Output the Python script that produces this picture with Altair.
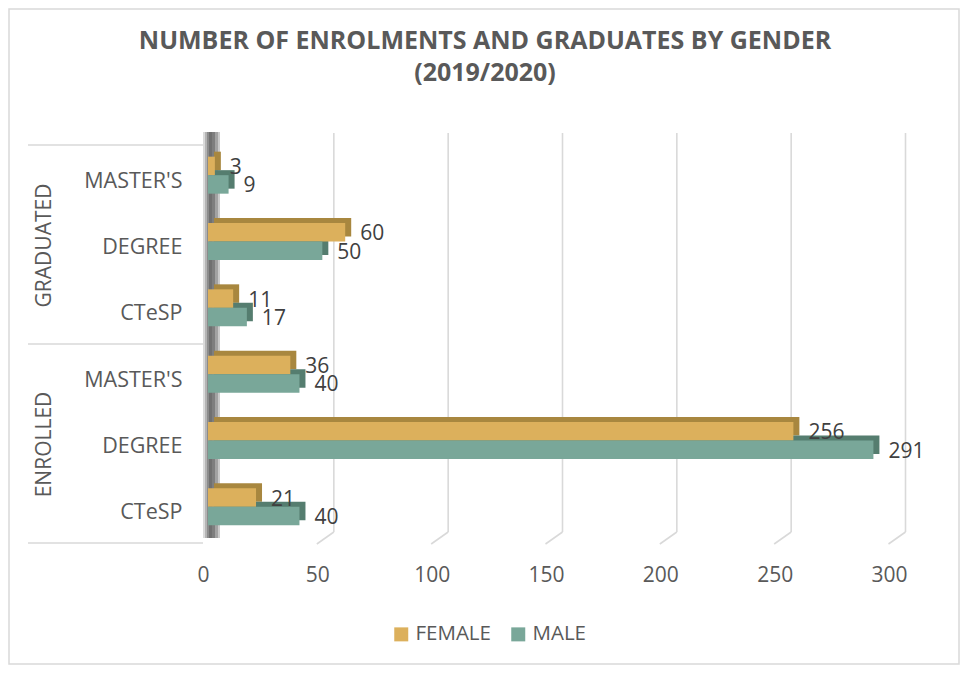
import altair as alt
import pandas as pd

# ---- data ----
groups = ["GRADUATED", "GRADUATED", "GRADUATED", "ENROLLED", "ENROLLED", "ENROLLED"]
levels = ["MASTER'S", "DEGREE", "CTeSP", "MASTER'S", "DEGREE", "CTeSP"]
female = [3, 60, 11, 36, 256, 21]
male = [9, 50, 17, 40, 291, 40]
genders = ["FEMALE", "MALE"]
tick_values = [0, 50, 100, 150, 200, 250, 300]
grid_values = [50, 100, 150, 200, 250, 300]
title_lines = ["NUMBER OF ENROLMENTS AND GRADUATES BY GENDER", "(2019/2020)"]

front_colors = ["#DCB05C", "#79A799"]
side_colors = ["#A8873F", "#557D6F"]

FONT = "Open Sans"
GREY = "#595959"

keys = [g + "|" + l for g, l in zip(groups, levels)]
rows = []
for k, g, l, f, m in zip(keys, groups, levels, female, male):
    rows.append({"key": k, "group": g, "level": l, "gender": "FEMALE", "v": f})
    rows.append({"key": k, "group": g, "level": l, "gender": "MALE", "v": m})
df = pd.DataFrame(rows)

W, H = 686, 398
BAR_H = 18.5

xscale = alt.Scale(domain=[0, 300], nice=False, zero=True)
yscale = alt.Scale(domain=keys, paddingInner=0.442, paddingOuter=0.221)

x_axis = alt.Axis(
    values=tick_values, grid=False, domain=False, ticks=False,
    labelFontSize=21, labelFont=FONT, labelColor=GREY,
    labelPadding=24, labelOffset=-5, title=None, labelFlush=False,
)
y_axis = alt.Axis(
    domain=False, ticks=False, title=None,
    labelFontSize=21.5, labelFont=FONT, labelColor=GREY,
    labelPadding=26, labelOffset=6.5,
    labelExpr="split(datum.label, '|')[1]",
)

def X():
    return alt.X("v:Q", scale=xscale, axis=x_axis)

def Y():
    return alt.Y("key:N", scale=yscale, sort=keys, axis=y_axis)

base = alt.Chart(df)
one = pd.DataFrame({"a": [0]})

# outer border
border = alt.Chart(one).mark_rect(
    fill="white", fillOpacity=0, stroke="#D9D9D9", strokeWidth=1.5
).encode(
    x=alt.value(-199), x2=alt.value(751), y=alt.value(-133), y2=alt.value(522)
)

# back-wall gridlines (3D look)
gdf = pd.DataFrame({"v": grid_values})
grid_v = alt.Chart(gdf).mark_rule(color="#D9D9D9", strokeWidth=1.6, xOffset=11.5).encode(
    x=X(), y=alt.value(-9), y2=alt.value(390)
)
grid_d = alt.Chart(gdf).mark_rule(color="#D9D9D9", strokeWidth=1.6, xOffset=11.5, x2Offset=-5.5).encode(
    x=X(), x2=alt.X2("v"), y=alt.value(390), y2=alt.value(402)
)

# category separators on the left
sep_layers = [
    alt.Chart(one).mark_rule(color="#D9D9D9", strokeWidth=1.6).encode(
        x=alt.value(-180), x2=alt.value(-5), y=alt.value(yy), y2=alt.value(yy)
    )
    for yy in (3, 202, 401)
]

# axis wall strip (shaded)
wall_layers = [
    alt.Chart(one).mark_rect(color=c).encode(
        x=alt.value(a), x2=alt.value(b), y=alt.value(-10), y2=alt.value(396)
    )
    for a, b, c in [(-5, -3, "#DADADA"), (-3, -1, "#B4B4B4"), (-1, 1, "#8C8C8C"),
                    (1, 4, "#707070"), (4, 7, "#7E7E7E"), (7, 10, "#A2A2A2"), (10, 12, "#CACACA")]
]

# bar side/top faces: a darker copy shifted right and up
back_layers = []
for gname, col, off in zip(genders, side_colors, (-BAR_H / 2, BAR_H / 2)):
    back_layers.append(
        base.transform_filter(alt.datum.gender == gname).mark_bar(
            color=col, height=BAR_H, xOffset=6, x2Offset=6, yOffset=off - 5
        ).encode(x=X(), y=Y())
    )

front = base.mark_bar().encode(
    x=X(),
    y=Y(),
    yOffset=alt.YOffset("gender:N", sort=genders),
    color=alt.Color(
        "gender:N",
        scale=alt.Scale(domain=genders, range=front_colors),
        legend=alt.Legend(
            title=None, orient="none", direction="horizontal",
            legendX=183, legendY=482,
            symbolType="square", symbolSize=196, symbolStrokeWidth=0,
            labelFontSize=20.5, labelFont=FONT, labelColor=GREY,
            labelOffset=4, columnPadding=17,
        ),
    ),
)

labels = base.mark_text(
    align="left", baseline="middle", dx=15, dy=2,
    fontSize=21, font=FONT, color="#404040",
).encode(
    x=X(),
    y=Y(),
    yOffset=alt.YOffset("gender:N", sort=genders),
    text=alt.Text("v:Q"),
)

# group labels
gl = pd.DataFrame({"key": ["GRADUATED|DEGREE", "ENROLLED|DEGREE"], "name": ["GRADUATED", "ENROLLED"]})
group_labels = alt.Chart(gl).mark_text(
    angle=270, align="center", baseline="middle", fontSize=21, font=FONT, color=GREY, yOffset=4
).encode(
    x=alt.value(-163),
    y=Y(),
    text="name:N",
)

# title
title_layers = [
    alt.Chart(pd.DataFrame({"t": [t]})).mark_text(
        align="center", baseline="alphabetic", fontSize=25, font=FONT, fontWeight="bold", color=GREY
    ).encode(x=alt.value(277), y=alt.value(yy), text="t:N")
    for t, yy in zip(title_lines, (-93.5, -61.5))
]

chart = alt.layer(
    border, grid_v, grid_d, *sep_layers, *wall_layers, *back_layers, front, labels, group_labels, *title_layers
).resolve_scale(color="independent").properties(
    width=W, height=H,
    autosize=alt.AutoSizeParams(type="none"),
    padding={"left": 200, "top": 134, "right": 66, "bottom": 125},
).configure_view(strokeWidth=0)

chart.save("out.html", embed_options={"renderer": "svg", "actions": False})
